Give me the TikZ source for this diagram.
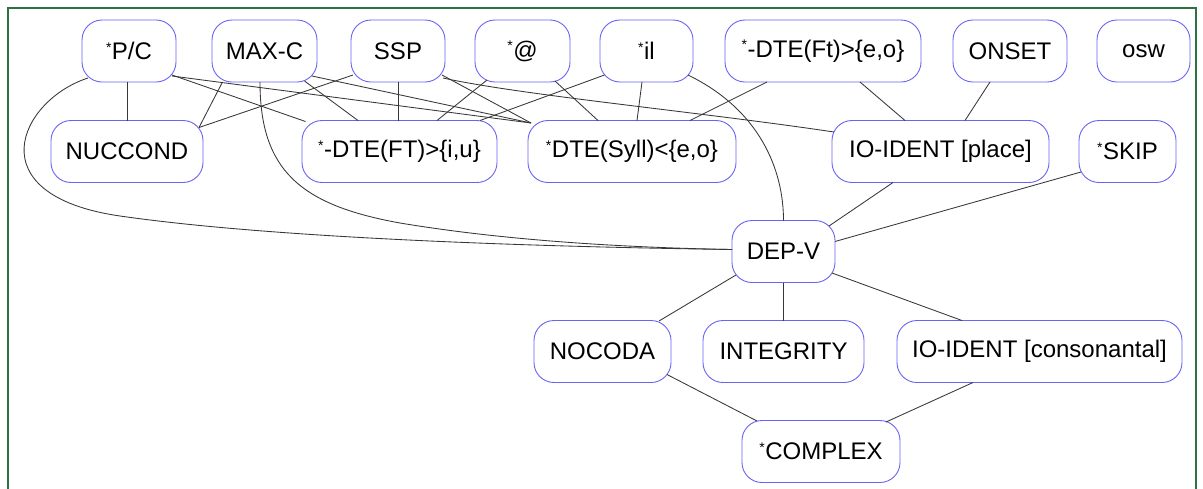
\documentclass[tikz,border=0pt]{standalone}
\usepackage{fontspec}
\setmainfont{Liberation Sans}
\usetikzlibrary{calc}
\definecolor{boxblue}{RGB}{105,100,245}
\definecolor{edgegray}{RGB}{55,55,55}
\definecolor{framegreen}{RGB}{45,115,65}
% small raised asterisk used in constraint names
\newcommand\tinystar{\raisebox{7.5pt}{\fontsize{14}{14}\selectfont *}\kern0.5pt}
\tikzset{
  box/.style={draw=boxblue, fill=white, line width=0.9pt, rounded corners=20pt,
              minimum height=62pt, inner sep=0pt,
              font=\fontsize{24}{28}\selectfont},
  link/.style={draw=edgegray, line width=0.85pt},
  frameline/.style={draw=framegreen, line width=2pt}
}
\begin{document}
\begin{tikzpicture}[x=1pt, y=-1pt]
\useasboundingbox (0,0) rectangle (1203,488);
\fill[white] (0,0) rectangle (1203,488);
\draw[frameline] (8,492) -- (8,8) -- (1196,8) -- (1196,492);

% top row
\node[box, minimum width=94pt]  (pc)     at (129,51)    {\tinystar P/C};
\node[box, minimum width=105pt] (maxc)   at (264.5,51)  {MAX-C};
\node[box, minimum width=94pt]  (ssp)    at (398,51)    {SSP};
\node[box, minimum width=95pt]  (at)     at (522.5,51)  {\tinystar @};
\node[box, minimum width=93pt]  (il)     at (646.5,51)  {\tinystar il};
\node[box, minimum width=196pt] (dteft)  at (823,51)    {\tinystar-DTE(Ft)>\{e,o\}};
\node[box, minimum width=114pt] (onset)  at (1010,51)   {ONSET};
\node[box, minimum width=93pt]  (osw)    at (1143.5,51) {osw};
% second row
\node[box, minimum width=152pt] (nuc)     at (127,151.5)    {NUCCOND};
\node[box, minimum width=195pt] (dtefti)  at (399.5,151.5)  {\tinystar-DTE(FT)>\{i,u\}};
\node[box, minimum width=208pt] (dtesyll) at (632,151.5)    {\tinystar DTE(Syll)<\{e,o\}};
\node[box, minimum width=217pt] (ioplace) at (940.5,151.5)  {IO-IDENT [place]};
\node[box, minimum width=97pt]  (skip)    at (1127.5,151.5) {\tinystar SKIP};
% third row
\node[box, minimum width=103pt] (depv) at (783.5,251.5) {DEP-V};
% fourth row
\node[box, minimum width=137pt] (nocoda) at (602.5,351.5)  {NOCODA};
\node[box, minimum width=161pt] (integ)  at (783.5,351.5)  {INTEGRITY};
\node[box, minimum width=285pt] (iocons) at (1039.5,351.5) {IO-IDENT [consonantal]};
% bottom
\node[box, minimum width=158pt] (complex) at (821,451.5) {\tinystar COMPLEX};

% connectors from the top row
\path[link] ($(pc)+(-2,31)$) -- ($(nuc)+(0,-31)$);
\path[link] ($(pc)+(43,24)$) -- ($(dtefti)+(-94,-30)$);
\path[link] ($(pc)+(43,25)$) -- ($(dtesyll)+(-101,-28.5)$);
\path[link] ($(pc)+(-41,27)$) .. controls (20,100) and (-25,195) .. (120,216)
            .. controls (280,239) and (550,247) .. ($(depv)+(-51.5,-2)$);
\path[link] ($(maxc)+(-42,31)$) -- ($(nuc)+(72,-24)$);
\path[link] ($(maxc)+(40,30)$) -- ($(dtefti)+(-41.5,-31)$);
\path[link] ($(maxc)+(47.5,25)$) -- ($(dtesyll)+(-101,-28.5)$);
\path[link] ($(maxc)+(-4.5,31)$) .. controls (260,170) and (300,205) .. (400,223)
            .. controls (520,243) and (650,248) .. ($(depv)+(-51.5,-2)$);
\path[link] ($(ssp)+(-45,24)$) -- ($(nuc)+(72,-24)$);
\path[link] ($(ssp)+(0,31)$) -- ($(dtefti)+(-1.5,-31)$);
\path[link] ($(ssp)+(44,24)$) -- ($(dtesyll)+(-101,-28.5)$);
\path[link] ($(ssp)+(45,27)$) .. controls (520,95) and (700,112) .. ($(ioplace)+(-106.5,-19.5)$);
\path[link] ($(at)+(-35.5,29)$) -- ($(dtefti)+(37.5,-31)$);
\path[link] ($(at)+(32.5,30)$) -- ($(dtesyll)+(-34,-31)$);
\path[link] ($(il)+(-42,24)$) -- ($(dtefti)+(80.5,-31)$);
\path[link] ($(il)+(-4.5,31)$) -- ($(dtesyll)+(5,-31)$);
\path[link] ($(il)+(41.5,24)$) .. controls (760,110) and (783.5,170) .. ($(depv)+(0,-31)$);
\path[link] ($(dteft)+(-56,31)$) -- ($(dtesyll)+(58,-31)$);
\path[link] ($(dteft)+(37,31)$) -- ($(ioplace)+(-35.5,-31)$);
\path[link] ($(onset)+(-20,31)$) -- ($(ioplace)+(24.5,-31)$);

% connectors into and out of DEP-V
\path[link] ($(ioplace)+(-47.5,31)$) -- ($(depv)+(45.5,-25.5)$);
\path[link] ($(skip)+(-46.5,20.5)$) -- ($(depv)+(51.5,-10)$);
\path[link] ($(depv)+(-47.5,23.5)$) -- ($(nocoda)+(56.5,-30.5)$);
\path[link] ($(depv)+(0,31)$) -- ($(integ)+(0,-31)$);
\path[link] ($(depv)+(48.5,21.5)$) -- ($(iocons)+(-77.5,-31)$);

% connectors into *COMPLEX
\path[link] ($(nocoda)+(64.5,23)$) -- ($(complex)+(-64,-30.5)$);
\path[link] ($(iocons)+(-66.5,31)$) -- ($(complex)+(65,-29.5)$);
\end{tikzpicture}
\end{document}
